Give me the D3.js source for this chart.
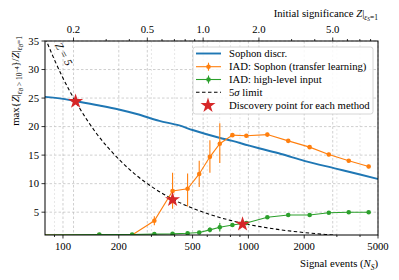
<!DOCTYPE html>
<html>
<head>
<meta charset="utf-8">
<script src="https://cdn.jsdelivr.net/npm/d3@7"></script>
<style>
  body { margin: 0; background: #fff; }
  text { font-family: "Liberation Serif", "DejaVu Serif", serif; fill: #000; }
</style>
</head>
<body>
<div id="chart"></div>
<script>
// Sophon discriminator curve
const sophonN = [80, 100, 120, 157, 200, 250, 331, 424, 500, 697, 820, 1000, 1140, 1500, 2000, 3000, 4000, 5000];
const sophonZ = [25.2, 24.85, 24.4, 23.7, 23.0, 22.2, 21.0, 20.2, 19.4, 18.05, 17.5, 16.7, 16.2, 15.2, 14.0, 12.6, 11.6, 10.8];

// IAD points (shared signal counts)
const iadN = [78, 157, 236, 311, 390, 470, 543, 620, 701, 820, 975, 1265, 1640, 2140, 2715, 3477, 4453];
const iadSophonZ  = [1.0, 1.0, 1.0, 3.5, 8.7, 9.1, 11.7, 14.7, 17.0, 18.5, 18.4, 18.6, 17.5, 16.4, 15.1, 14.0, 13.0];
const iadSophonLo = [null, null, null, 2.7, 5.6, 6.0, 9.4, 11.9, 13.6, 18.2, 18.1, 18.3, 17.2, 16.1, 14.8, 13.7, 12.7];
const iadSophonHi = [null, null, null, 4.3, 11.9, 11.8, 14.0, 17.6, 20.6, 18.8, 18.7, 18.9, 17.8, 16.7, 15.4, 14.3, 13.3];
const iadHighZ  = [1.0, 1.1, 1.1, 1.15, 1.2, 1.3, 1.45, 1.9, 2.35, 2.75, 3.1, 4.1, 4.5, 4.5, 4.9, 5.0, 5.0];
const iadHighLo = [null, null, null, null, null, null, 1.2, 1.5, 1.6, 2.5, 2.9, 3.9, 4.3, 4.3, 4.7, 4.8, 4.8];
const iadHighHi = [null, null, null, null, null, null, 1.7, 2.3, 3.1, 3.0, 3.3, 4.3, 4.7, 4.7, 5.1, 5.2, 5.2];

// 5 sigma limit curve
const limitN = [78, 90, 100, 120, 150, 200, 250, 300, 400, 500, 600, 800, 1000, 1500, 2000, 2600, 3000];
const limitZ = [36.5, 31.7, 28.5, 23.8, 19.0, 14.3, 11.4, 9.5, 7.1, 5.7, 4.75, 3.56, 2.85, 1.9, 1.43, 1.1, 0.95];

// discovery stars
const discoveryN = [117, 390, 930];
const discoveryZ = [24.4, 7.2, 2.9];

const xTicks = [100, 200, 500, 1000, 2000, 5000];
const xMinor = [90, 300, 400, 600, 700, 800, 900, 3000, 4000];
const yTicks = [5, 10, 15, 20, 25, 30, 35];
const topTicks = [0.2, 0.5, 1.0, 2.0, 5.0];
const topMinor = [0.3, 0.4, 0.6, 0.7, 0.8, 0.9, 3, 4, 6, 7, 8];
const nPerZ = 570; // N_S giving Z|eps=1 = 1

const W = 399, H = 280;
const m = { left: 45, right: 378, top: 41, bottom: 235 };

const svg = d3.select('#chart').append('svg')
    .attr('width', W).attr('height', H);

const x = d3.scaleLog().domain([80, 5000]).range([m.left, m.right]);
const y = d3.scaleLinear().domain([1, 35]).range([m.bottom, m.top]);
const xTop = d3.scaleLog().domain([80 / nPerZ, 5000 / nPerZ]).range([m.left, m.right]);

const fs = 10.7;

// grid
const grid = svg.append('g');
xMinor.forEach(v => {
    grid.append('line').attr('x1', x(v)).attr('x2', x(v)).attr('y1', m.top).attr('y2', m.bottom)
        .attr('stroke', '#ddd').attr('stroke-width', 0.7).attr('stroke-dasharray', '2,2');
});
xTicks.forEach(v => {
    grid.append('line').attr('x1', x(v)).attr('x2', x(v)).attr('y1', m.top).attr('y2', m.bottom)
        .attr('stroke', '#bbb').attr('stroke-width', 0.7).attr('stroke-dasharray', '2.5,2');
});
topTicks.forEach(v => {
    grid.append('line').attr('x1', xTop(v)).attr('x2', xTop(v)).attr('y1', m.top).attr('y2', m.bottom)
        .attr('stroke', '#bbb').attr('stroke-width', 0.7).attr('stroke-dasharray', '2.5,2');
});
yTicks.forEach(v => {
    grid.append('line').attr('x1', m.left).attr('x2', m.right).attr('y1', y(v)).attr('y2', y(v))
        .attr('stroke', '#bbb').attr('stroke-width', 0.7).attr('stroke-dasharray', '2.5,2');
});

// clip
svg.append('clipPath').attr('id', 'clip').append('rect')
    .attr('x', m.left).attr('y', m.top).attr('width', m.right - m.left).attr('height', m.bottom - m.top);
const plot = svg.append('g').attr('clip-path', 'url(#clip)');

const line = d3.line().x(d => x(d[0])).y(d => y(d[1]));

// 5 sigma limit
plot.append('path').datum(d3.zip(limitN, limitZ)).attr('d', line.curve(d3.curveMonotoneX))
    .attr('fill', 'none').attr('stroke', '#000').attr('stroke-width', 1.1).attr('stroke-dasharray', '3.5,2.5');

// sophon discr
plot.append('path').datum(d3.zip(sophonN, sophonZ)).attr('d', line.curve(d3.curveMonotoneX))
    .attr('fill', 'none').attr('stroke', '#1f77b4').attr('stroke-width', 1.9);

function drawSeries(vals, lo, hi, color) {
    const g = plot.append('g');
    g.append('path').datum(d3.zip(iadN, vals)).attr('d', line.curve(d3.curveLinear))
        .attr('fill', 'none').attr('stroke', color).attr('stroke-width', 1.1);
    iadN.forEach((n, i) => {
        if (lo[i] !== null) {
            g.append('line').attr('x1', x(n)).attr('x2', x(n)).attr('y1', y(lo[i])).attr('y2', y(hi[i]))
                .attr('stroke', color).attr('stroke-width', 1.1);
        }
    });
    g.selectAll('circle').data(iadN).enter().append('circle')
        .attr('cx', d => x(d)).attr('cy', (d, i) => y(vals[i])).attr('r', 2.3)
        .attr('fill', color);
}
drawSeries(iadSophonZ, iadSophonLo, iadSophonHi, '#ff7f0e');
drawSeries(iadHighZ, iadHighLo, iadHighHi, '#2ca02c');

// stars
const star = d3.symbol().type(d3.symbolStar).size(70);
plot.selectAll('path.star').data(discoveryN).enter().append('path')
    .attr('class', 'star')
    .attr('d', star)
    .attr('transform', (d, i) => `translate(${x(d)},${y(discoveryZ[i])})`)
    .attr('fill', '#d62728');

// Z=5 label
svg.append('text').attr('transform', 'translate(64,54) rotate(62)')
    .attr('text-anchor', 'middle').attr('dy', '0.35em')
    .style('font-size', '11px').style('font-style', 'italic').text('Z = 5');

// frame
svg.append('rect').attr('x', m.left).attr('y', m.top)
    .attr('width', m.right - m.left).attr('height', m.bottom - m.top)
    .attr('fill', 'none').attr('stroke', '#000').attr('stroke-width', 1);

// axes ticks
const ax = svg.append('g').attr('stroke', '#000').attr('stroke-width', 0.8);
xTicks.forEach(v => ax.append('line').attr('x1', x(v)).attr('x2', x(v)).attr('y1', m.bottom).attr('y2', m.bottom + 3.5));
xMinor.forEach(v => ax.append('line').attr('x1', x(v)).attr('x2', x(v)).attr('y1', m.bottom).attr('y2', m.bottom + 2));
topTicks.forEach(v => ax.append('line').attr('x1', xTop(v)).attr('x2', xTop(v)).attr('y1', m.top).attr('y2', m.top - 3.5));
topMinor.forEach(v => ax.append('line').attr('x1', xTop(v)).attr('x2', xTop(v)).attr('y1', m.top).attr('y2', m.top - 2));
yTicks.forEach(v => ax.append('line').attr('x1', m.left).attr('x2', m.left - 3.5).attr('y1', y(v)).attr('y2', y(v)));

xTicks.forEach(v => svg.append('text').attr('x', x(v)).attr('y', m.bottom + 15)
    .attr('text-anchor', 'middle').style('font-size', fs + 'px').text(v));
topTicks.forEach(v => svg.append('text').attr('x', xTop(v)).attr('y', m.top - 8)
    .attr('text-anchor', 'middle').style('font-size', fs + 'px').text(v.toFixed(1)));
yTicks.forEach(v => svg.append('text').attr('x', m.left - 6).attr('y', y(v)).attr('dy', '0.35em')
    .attr('text-anchor', 'end').style('font-size', fs + 'px').text(v));

// axis labels
const xl = svg.append('text').attr('x', m.right).attr('y', 267).attr('text-anchor', 'end')
    .style('font-size', fs + 'px');
xl.append('tspan').text('Signal events (');
xl.append('tspan').style('font-style', 'italic').text('N');
xl.append('tspan').attr('dy', 2.5).style('font-size', '7.5px').style('font-style', 'italic').text('S');
xl.append('tspan').attr('dy', -2.5).text(')');

const tl = svg.append('text').attr('x', m.right).attr('y', 17).attr('text-anchor', 'end')
    .style('font-size', fs + 'px');
tl.append('tspan').text('Initial significance ');
tl.append('tspan').style('font-style', 'italic').text('Z');
tl.append('tspan').text('|');
tl.append('tspan').attr('dy', 2.5).style('font-size', '7.5px').style('font-style', 'italic').text('ε');
tl.append('tspan').attr('dy', 1.5).style('font-size', '5.5px').style('font-style', 'italic').text('S');
tl.append('tspan').attr('dy', -1.5).style('font-size', '7.5px').text('=1');

const yl = svg.append('text').attr('transform', 'translate(19,36) rotate(-90)')
    .attr('text-anchor', 'end').style('font-size', fs + 'px');
yl.append('tspan').text('max{');
yl.append('tspan').style('font-style', 'italic').text('Z');
yl.append('tspan').text('|');
yl.append('tspan').attr('dy', 2.5).style('font-size', '7.5px').style('font-style', 'italic').text('ε');
yl.append('tspan').attr('dy', 1.5).style('font-size', '5.5px').style('font-style', 'italic').text('B');
yl.append('tspan').attr('dy', -1.5).style('font-size', '7.5px').text(' > 10');
yl.append('tspan').attr('dy', -3).style('font-size', '5.5px').text('−4');
yl.append('tspan').attr('dy', 0.5).text('}/');
yl.append('tspan').style('font-style', 'italic').text('Z');
yl.append('tspan').text('|');
yl.append('tspan').attr('dy', 2.5).style('font-size', '7.5px').style('font-style', 'italic').text('ε');
yl.append('tspan').attr('dy', 1.5).style('font-size', '5.5px').style('font-style', 'italic').text('B');
yl.append('tspan').attr('dy', -1.5).style('font-size', '7.5px').text('=1');

// legend
const legendItems = [
    { label: 'Sophon discr.', type: 'line', color: '#1f77b4' },
    { label: 'IAD: Sophon (transfer learning)', type: 'err', color: '#ff7f0e' },
    { label: 'IAD: high-level input', type: 'err', color: '#2ca02c' },
    { label: '5σ limit', type: 'dash', color: '#000' },
    { label: 'Discovery point for each method', type: 'star', color: '#d62728' }
];
const lg = svg.append('g');
lg.append('rect').attr('x', 193).attr('y', 47).attr('width', 180).attr('height', 67).attr('rx', 2.5)
    .attr('fill', '#fff').attr('fill-opacity', 0.85).attr('stroke', '#ccc').attr('stroke-width', 0.8);
const rowY = [53.5, 66.7, 79.5, 92.3, 105.5];
legendItems.forEach((d, i) => {
    const yy = rowY[i];
    if (d.type === 'star') {
        lg.append('path').attr('d', star).attr('transform', `translate(208,${yy})`).attr('fill', d.color);
    } else {
        const l = lg.append('line').attr('x1', 196).attr('x2', 221).attr('y1', yy).attr('y2', yy)
            .attr('stroke', d.color);
        if (d.type === 'line') l.attr('stroke-width', 1.9);
        if (d.type === 'dash') l.attr('stroke-width', 1.1).attr('stroke-dasharray', '3.5,2.5');
        if (d.type === 'err') {
            l.attr('stroke-width', 1.1);
            lg.append('line').attr('x1', 208.5).attr('x2', 208.5).attr('y1', yy - 4).attr('y2', yy + 4)
                .attr('stroke', d.color).attr('stroke-width', 1.1);
            lg.append('circle').attr('cx', 208.5).attr('cy', yy).attr('r', 2.3).attr('fill', d.color);
        }
    }
    const t = lg.append('text').attr('x', 229).attr('y', yy).attr('dy', '0.35em')
        .style('font-size', fs + 'px');
    if (d.type === 'dash') {
        t.append('tspan').text('5');
        t.append('tspan').style('font-style', 'italic').text('σ');
        t.append('tspan').text(' limit');
    } else {
        t.text(d.label);
    }
});
</script>
</body>
</html>
